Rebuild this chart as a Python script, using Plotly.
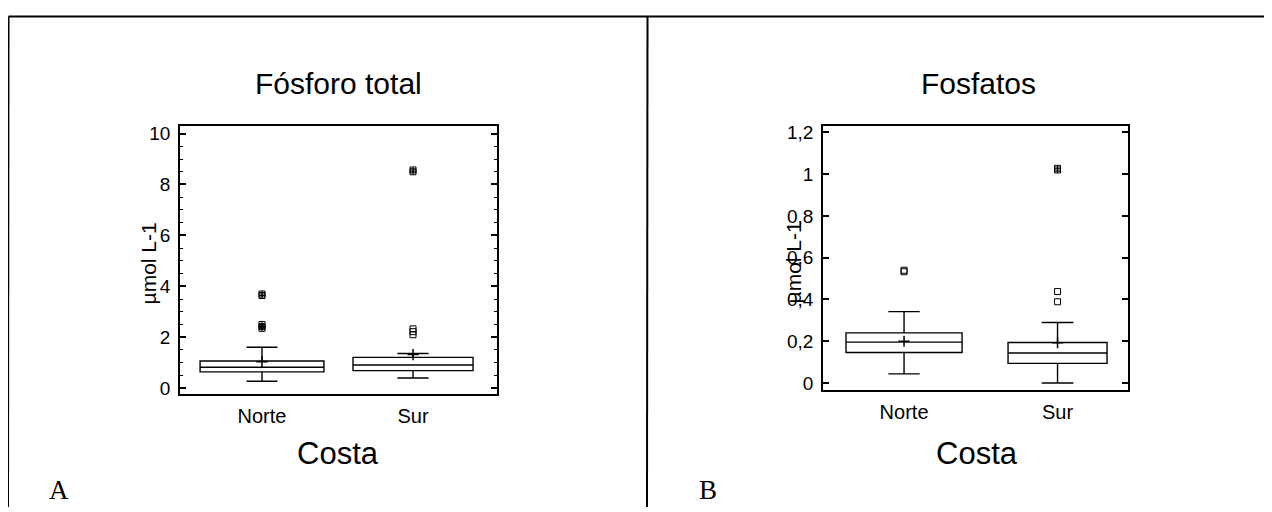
import plotly.graph_objects as go

W, H = 1264, 504
OFF = 8  # page body margin

categories = ["Norte", "Sur"]
xpos = [0, 1]

# Panel A: Fósforo total
pt_q1 = [0.64, 0.69]
pt_median = [0.82, 0.91]
pt_q3 = [1.07, 1.21]
pt_lower = [0.27, 0.40]
pt_upper = [1.61, 1.36]
pt_mean = [1.04, 1.32]
pt_near_norte = []
pt_far_norte = [3.70, 3.64, 2.50, 2.42, 2.35]
pt_near_sur = [2.33, 2.22, 2.10]
pt_far_sur = [8.57, 8.50]

# Panel B: Fosfatos
fs_q1 = [0.146, 0.094]
fs_median = [0.196, 0.144]
fs_q3 = [0.240, 0.194]
fs_lower = [0.044, 0.0]
fs_upper = [0.342, 0.290]
fs_mean = [0.200, 0.193]
fs_near_norte = [0.540, 0.533]
fs_far_norte = []
fs_near_sur = [0.438, 0.389]
fs_far_sur = [1.028, 1.020]

box_widths_a = [0.82, 0.795]
box_widths_b = [0.756, 0.645]
whisker_a = [0.25, 0.26]
whisker_b = [0.27, 0.32]

def px_x(p):
    return (p - OFF) / W

def px_y(p):
    return 1 - (p - OFF) / H

fig = go.Figure()

def add_panel(xa, ya, q1, med, q3, lo, up, mean, near, far, widths, whisk):
    for i in range(2):
        fig.add_trace(go.Box(
            x=[xpos[i]], q1=[q1[i]], median=[med[i]], q3=[q3[i]],
            lowerfence=[lo[i]], upperfence=[up[i]],
            width=widths[i], whiskerwidth=whisk[i],
            boxpoints=False, fillcolor="rgba(255,255,255,0)",
            line=dict(color="black", width=1.4),
            xaxis=xa, yaxis=ya, showlegend=False, hoverinfo="skip"))
    fig.add_trace(go.Scatter(
        x=xpos, y=mean, mode="markers",
        marker=dict(symbol="cross-thin-open", size=8, color="black",
                    line=dict(color="black", width=1.5)),
        xaxis=xa, yaxis=ya, showlegend=False))
    for i in range(2):
        nr, fr = near[i], far[i]
        if nr:
            fig.add_trace(go.Scatter(
                x=[xpos[i]] * len(nr), y=nr, mode="markers",
                marker=dict(symbol="square-open", size=6, color="black",
                            line=dict(color="black", width=1)),
                xaxis=xa, yaxis=ya, showlegend=False))
        if fr:
            fig.add_trace(go.Scatter(
                x=[xpos[i]] * len(fr), y=fr, mode="markers",
                marker=dict(symbol="square-cross-open", size=6, color="black",
                            line=dict(color="black", width=1)),
                xaxis=xa, yaxis=ya, showlegend=False))

add_panel("x", "y", pt_q1, pt_median, pt_q3, pt_lower, pt_upper, pt_mean,
          (pt_near_norte, pt_near_sur), (pt_far_norte, pt_far_sur),
          box_widths_a, whisker_a)
add_panel("x2", "y2", fs_q1, fs_median, fs_q3, fs_lower, fs_upper, fs_mean,
          (fs_near_norte, fs_near_sur), (fs_far_norte, fs_far_sur),
          box_widths_b, whisker_b)

font_sans = "Liberation Sans, Arial, sans-serif"

xcommon = dict(showline=True, linecolor="black", linewidth=1.5, mirror=True,
               ticks="", tickvals=xpos, ticktext=categories,
               showgrid=False, zeroline=False, ticklabelstandoff=3,
               tickfont=dict(family=font_sans, size=20, color="black"))
ycommon = dict(showline=True, linecolor="black", linewidth=1.5, mirror="ticks",
               ticks="inside", ticklen=6, tickwidth=1.5, tickcolor="black",
               showgrid=False, zeroline=False, ticklabelstandoff=4,
               tickfont=dict(family=font_sans, size=19, color="black"))

fig.update_layout(
    width=W, height=H, autosize=False,
    margin=dict(l=0, r=0, t=0, b=0),
    paper_bgcolor="white", plot_bgcolor="white",
    separators=", ",
    xaxis=dict(domain=[px_x(180), px_x(497)], range=[-0.543, 1.556], anchor="y", **xcommon),
    yaxis=dict(domain=[px_y(397), px_y(124)], range=[-0.23, 10.3], anchor="x",
               tickvals=[0, 2, 4, 6, 8, 10],
               minor=dict(dtick=0.5, ticks="inside", ticklen=3.5, tickwidth=1, tickcolor="black"),
               **ycommon),
    xaxis2=dict(domain=[px_x(823), px_x(1128)], range=[-0.528, 1.459], anchor="y2", **xcommon),
    yaxis2=dict(domain=[px_y(393), px_y(124)], range=[-0.034, 1.231], anchor="x2",
                tickvals=[0, 0.2, 0.4, 0.6, 0.8, 1.0, 1.2],
                **ycommon),
)

ann = []
def txt(text, x, y, size, family=font_sans, angle=0):
    ann.append(dict(text=text, x=px_x(x), y=px_y(y), xref="paper", yref="paper",
                    showarrow=False, xanchor="center", yanchor="middle",
                    textangle=angle, font=dict(family=family, size=size, color="black")))

txt("Fósforo total", 338, 81, 30)
txt("Fosfatos", 978, 81, 30)
txt("Costa", 338, 458, 31)
txt("Costa", 977, 458, 31)
txt("µmol L-1", 148, 264, 21, angle=-90)
txt("µmol L-1", 793, 263, 21, angle=-90)
txt("A", 59, 495, 27, family="Liberation Serif, Times New Roman, serif")
txt("B", 708, 495, 27, family="Liberation Serif, Times New Roman, serif")
fig.update_layout(annotations=ann)

shapes = []
for (x0, y0, x1, y1) in [(8, 12.5, 1272, 12.5), (8, 12.5, 8, 512), (647, 12.5, 647, 512)]:
    shapes.append(dict(type="line", xref="paper", yref="paper",
                       x0=px_x(x0 + 0.5), y0=px_y(y0), x1=px_x(x1), y1=px_y(y1),
                       line=dict(color="black", width=2)))
fig.update_layout(shapes=shapes)

fig.write_html("out.html")
